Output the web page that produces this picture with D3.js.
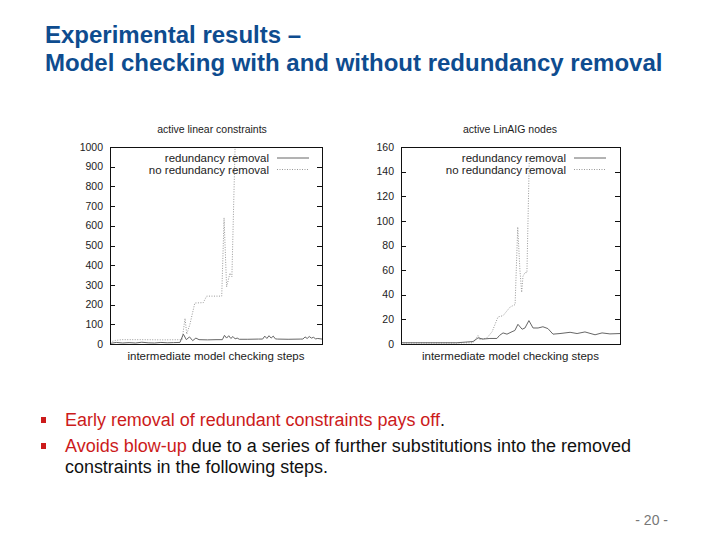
<!DOCTYPE html>
<head>
<meta charset="utf-8">
<title>Model checking with and without redundancy removal</title>
<script type="text/javascript" src="https://d3js.org/d3.v7.min.js"></script>
<style>
body { margin: 0; background: #fff; }
svg { display: block; font-family: "Liberation Sans", Arial, sans-serif; }

.slide-title { fill: #0e4c8f; font-size: 24px; font-weight: bold; }
.bullet-text { font-size: 18px; fill: #111; }
.red { fill: #cc1b1b; }
.page-num { fill: #777; font-size: 14px; }

.frame { fill: none; stroke: #111; stroke-width: 1; shape-rendering: crispEdges; }
.tick-mark { stroke: #111; stroke-width: 1; shape-rendering: crispEdges; }
.tick-label { fill: #222; font-size: 10.5px; }
.chart-title { fill: #222; font-size: 10.5px; }
.chart-label { fill: #222; font-size: 11.5px; }

.line-red { fill: none; stroke: #666; stroke-width: 1; }
.line-nored { fill: none; stroke: #999; stroke-width: 1; stroke-dasharray: 1, 1.5; }
</style>
</head>
<body>
<div id="container"></div>
<script>
//-----------------------------DATA-----------------------------//
// step index along "intermediate model checking steps" (0..100)
const legendNames = ["redundancy removal", "no redundancy removal"];

// left panel: active linear constraints
const linTicks = [0, 100, 200, 300, 400, 500, 600, 700, 800, 900, 1000];
const linRedSteps = [0, 3, 6, 9, 12, 15, 18, 21, 24, 27, 30, 33, 34.6, 36, 37.5, 39, 40.5, 42, 46, 50, 53, 54, 55, 56, 57, 58, 59, 60, 61, 65, 70, 72, 73, 74, 75, 76, 77, 78, 79, 84, 90, 91, 92, 93, 94, 95, 96, 97, 98, 100];
const linRedValues = [3, 8, 5, 7, 5, 9, 6, 5, 8, 6, 7, 8, 50, 22, 36, 17, 30, 22, 21, 22, 22, 44, 30, 42, 28, 38, 26, 30, 24, 24, 25, 25, 40, 28, 42, 30, 40, 26, 25, 24, 25, 25, 36, 28, 38, 30, 34, 26, 28, 25];
const linNoRedSteps = [0, 2.5, 5.5, 15, 25, 34, 35.4, 36.2, 37.7, 40, 44, 45.6, 52.7, 53.8, 55, 56.6, 57.5, 59];
const linNoRedValues = [10, 18, 22, 22, 21, 22, 130, 50, 100, 208, 210, 243, 243, 640, 290, 360, 342, 1000];

// right panel: active LinAIG nodes (x1000)
const aigTicks = [0, 20, 40, 60, 80, 100, 120, 140, 160];
const aigRedSteps = [0, 25.4, 29.2, 32.9, 35.2, 37.4, 40.6, 43.8, 45, 46.6, 48.4, 50.7, 52, 53.4, 55.3, 56.6, 58.4, 60.3, 62.6, 64.8, 67.1, 69.4, 72.6, 77.2, 80.4, 84, 88.6, 91.8, 95.4, 100];
const aigRedValues = [1, 1, 1.5, 2, 5, 4, 4.5, 4.5, 7, 9, 8, 10, 11, 16, 12, 13, 19, 13, 13, 14, 12.5, 8, 8.5, 9.5, 8.5, 9.8, 7.5, 9, 8.2, 8.5];
const aigNoRedSteps = [0, 25, 32.9, 35.2, 36.1, 39.3, 41.6, 44.3, 46.6, 49.8, 52.1, 53.3, 54.3, 55.1, 55.7, 56.6, 57.5, 58.6];
const aigNoRedValues = [0.8, 0.8, 1, 7, 3.5, 5, 10, 22, 23, 30, 32, 95, 60, 42, 55, 58, 58, 152];

//-----------------------------SVG------------------------------//
const width = 720;
const height = 540;

const svg = d3.select("div#container").append("svg")
    .attr("width", width)
    .attr("height", height);

//----------------------------TITLE-----------------------------//
svg.append("text").attr("class", "slide-title")
    .attr("x", 45).attr("y", 43)
    .text("Experimental results \u2013");
svg.append("text").attr("class", "slide-title")
    .attr("x", 45).attr("y", 71)
    .text("Model checking with and without redundancy removal");

//----------------------------PANELS----------------------------//
function drawPanel(p) {
    const x = d3.scaleLinear().domain([0, 100]).range([p.x0, p.x1]);
    const y = d3.scaleLinear().domain([0, d3.max(p.ticks)]).range([p.y0, p.y1]);
    const g = svg.append("g");

    // ticks on both sides, pointing inwards (gnuplot mirror)
    p.ticks.forEach(function(t) {
        if (t === 0 || t === d3.max(p.ticks)) return;
        g.append("line").attr("class", "tick-mark")
            .attr("x1", p.x0).attr("x2", p.x0 + 5)
            .attr("y1", Math.round(y(t)) + 0.5).attr("y2", Math.round(y(t)) + 0.5);
        g.append("line").attr("class", "tick-mark")
            .attr("x1", p.x1 - 5).attr("x2", p.x1)
            .attr("y1", Math.round(y(t)) + 0.5).attr("y2", Math.round(y(t)) + 0.5);
    });
    g.selectAll(".tick-label")
        .data(p.ticks)
        .enter().append("text")
        .attr("class", "tick-label")
        .attr("x", p.x0 - 7)
        .attr("y", function(d) { return y(d); })
        .attr("dy", "0.35em")
        .attr("text-anchor", "end")
        .text(function(d) { return d; });

    const line = d3.line()
        .x(function(d) { return x(d[0]); })
        .y(function(d) { return y(d[1]); });

    g.append("path").attr("class", "line-nored")
        .attr("d", line(d3.zip(p.noRedSteps, p.noRedValues)));
    g.append("path").attr("class", "line-red")
        .attr("d", line(d3.zip(p.redSteps, p.redValues)));

    // legend
    legendNames.forEach(function(name, i) {
        const ly = p.legendY + i * 11.5;
        g.append("text").attr("class", "chart-label")
            .attr("x", p.legendX).attr("y", ly).attr("dy", "0.35em")
            .attr("text-anchor", "end")
            .text(name);
        g.append("line")
            .attr("class", i === 0 ? "line-red" : "line-nored")
            .attr("x1", p.legendX + 8).attr("x2", p.legendX + 40)
            .attr("y1", ly).attr("y2", ly);
    });

    g.append("rect").attr("class", "frame")
        .attr("x", p.x0 + 0.5).attr("y", p.y1 + 0.5)
        .attr("width", p.x1 - p.x0).attr("height", p.y0 - p.y1);

    g.append("text").attr("class", "chart-title")
        .attr("x", p.titleX).attr("y", 133)
        .attr("text-anchor", "middle")
        .text(p.title);
    g.append("text").attr("class", "chart-label")
        .attr("x", (p.x0 + p.x1) / 2).attr("y", 360)
        .attr("text-anchor", "middle")
        .text("intermediate model checking steps");

    if (p.yLabel) {
        g.append("text").attr("class", "chart-label")
            .attr("transform", "translate(359," + ((p.y0 + p.y1) / 2) + ") rotate(-90)")
            .attr("text-anchor", "middle")
            .style("font-size", "12px")
            .text(p.yLabel);
    }
}

drawPanel({
    x0: 110, x1: 322, y0: 344, y1: 147,
    ticks: linTicks, title: "active linear constraints", titleX: 212,
    redSteps: linRedSteps, redValues: linRedValues,
    noRedSteps: linNoRedSteps, noRedValues: linNoRedValues,
    legendX: 269, legendY: 158
});
drawPanel({
    x0: 401, x1: 620, y0: 344, y1: 147,
    ticks: aigTicks, title: "active LinAIG nodes", titleX: 510,
    redSteps: aigRedSteps, redValues: aigRedValues,
    noRedSteps: aigNoRedSteps, noRedValues: aigNoRedValues,
    legendX: 566, legendY: 158
});

//---------------------------BULLETS----------------------------//
const bullets = svg.append("g");
[420, 446].forEach(function(cy) {
    bullets.append("rect").attr("class", "red")
        .attr("x", 41).attr("y", cy - 3).attr("width", 5).attr("height", 6);
});

const b1 = bullets.append("text").attr("class", "bullet-text")
    .attr("x", 65).attr("y", 426)
    .attr("textLength", 380).attr("lengthAdjust", "spacingAndGlyphs");
b1.append("tspan").attr("class", "red").text("Early removal of redundant constraints pays off");
b1.append("tspan").text(".");

const b2 = bullets.append("text").attr("class", "bullet-text")
    .attr("x", 65).attr("y", 452)
    .attr("textLength", 566).attr("lengthAdjust", "spacingAndGlyphs");
b2.append("tspan").attr("class", "red").text("Avoids blow-up");
b2.append("tspan").text(" due to a series of further substitutions into the removed");

bullets.append("text").attr("class", "bullet-text")
    .attr("x", 65).attr("y", 473)
    .attr("textLength", 263).attr("lengthAdjust", "spacingAndGlyphs")
    .text("constraints in the following steps.");

svg.append("text").attr("class", "page-num")
    .attr("x", 668).attr("y", 525).attr("text-anchor", "end")
    .text("-  20 -");
</script>
</body>
